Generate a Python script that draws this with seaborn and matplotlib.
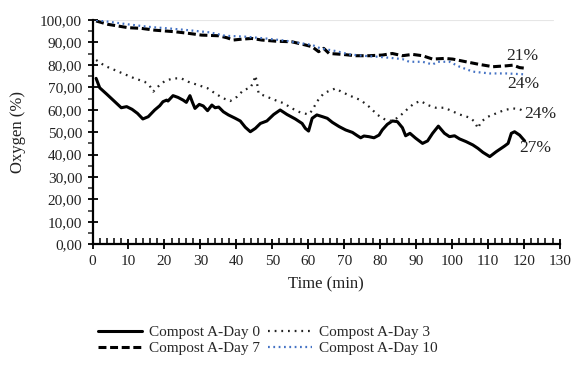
import matplotlib
matplotlib.use("Agg")
import matplotlib.pyplot as plt
import seaborn as sns
import pandas as pd
from matplotlib.ticker import MultipleLocator, FixedLocator, FixedFormatter

# ---- data ----
series_names = ["Compost A-Day 0", "Compost A-Day 3", "Compost A-Day 7", "Compost A-Day 10"]

t0 = [1, 2, 4, 6, 8, 9.5, 11, 12.5, 14, 15.5, 17.3, 18.7, 19.6, 20.6, 21, 22.4, 23.8, 25.2, 26.1, 27.1,
      27.8, 28.5, 29.7, 30.8, 32, 33.2, 34.1, 35.1, 36.4, 37.8, 39.7, 41.1, 42.5, 43.9, 45.3, 46.7, 48.5,
      50.4, 52.2, 54.1, 56.4, 58.3, 59.2, 60.1, 61.1, 62.4, 64, 65.3, 66.7, 68.6, 70.4, 72.3, 73.7, 74.6,
      75.5, 76.9, 78.3, 79.7, 80.6, 82, 83.4, 84.8, 86.2, 87.1, 88.3, 89.9, 91.8, 93.2, 94.6, 96.2, 97.9,
      99.3, 100.7, 102.1, 103.9, 105.8, 107.2, 108.6, 110.5, 112.3, 114.6, 115.6, 116.5, 117.4, 118.8, 120.2]
v0 = [74.0, 69.8, 66.9, 63.9, 60.9, 61.4, 60.2, 58.4, 55.9, 56.9, 59.9, 61.8, 63.6, 64.3, 63.9, 66.3, 65.5,
      64.3, 63.3, 66.3, 63.3, 60.6, 62.4, 61.7, 59.6, 62.1, 60.9, 61.2, 59.1, 57.7, 56.2, 55.0, 52.2, 50.2,
      51.7, 53.9, 55.0, 57.9, 59.9, 57.9, 55.9, 53.9, 51.7, 50.5, 56.2, 57.7, 56.9, 56.2, 54.4, 52.5, 51.0,
      49.9, 48.4, 47.5, 48.3, 48.0, 47.5, 48.7, 51.0, 53.5, 55.0, 54.7, 52.0, 48.4, 49.5, 47.3, 45.0, 46.1,
      49.5, 52.7, 49.5, 48.0, 48.4, 47.0, 45.8, 44.3, 42.8, 41.0, 39.1, 41.3, 43.8, 45.0, 49.5, 50.2, 48.7, 46.1]

t3 = [1, 3.4, 6.2, 9, 11.7, 14.5, 15.9, 16.9, 18.2, 20.1, 22.4, 24.7, 26.6, 29.4, 32, 34.1, 36.4, 38.3, 40.2,
      42, 43.9, 44.8, 45.3, 45.7, 46.2, 48.5, 50.8, 53.2, 55.5, 57.8, 60.1, 61.2, 62.4, 64.3, 65.8, 67.6,
      69.5, 72.3, 74.6, 76.9, 79.3, 81.6, 83.4, 85.3, 87.6, 89.5, 91.3, 93.2, 95.5, 97.9, 99.3, 102.1, 104.9,
      106.3, 107.2, 108.1, 110, 112.3, 114.6, 116.9, 118.8, 120.2]
v3 = [82.2, 79.6, 77.7, 75.8, 74.0, 72.5, 70.7, 68.1, 70.3, 72.8, 74.0, 74.0, 72.5, 71.0, 69.6, 67.3, 65.1,
      63.9, 65.8, 68.8, 69.8, 72.5, 75.2, 72.5, 67.3, 65.8, 64.3, 62.9, 60.6, 58.8, 57.9, 59.9, 63.6, 67.3,
      68.4, 69.5, 67.8, 65.8, 64.3, 61.4, 57.7, 55.4, 55.0, 56.9, 60.3, 62.9, 63.9, 62.1, 60.9, 60.9, 59.9,
      57.9, 56.5, 54.7, 51.7, 54.7, 56.9, 58.4, 59.9, 60.6, 60.3, 59.1]

t7 = [1, 4.3, 9.9, 13.6, 17.3, 22.9, 26.6, 30.3, 35.1, 37.4, 39.2, 41.5, 44.3, 47.1, 50.8, 55.5, 59.2, 61.1,
      62.9, 64.3, 65.8, 69.5, 73.2, 76.9, 80.6, 83.4, 86.2, 89, 91.8, 94.6, 97.9, 100.2, 103.9, 107.7, 111.4,
      115.1, 117, 118.8, 120.5]
v7 = [99.6, 98.1, 96.6, 96.3, 95.5, 94.8, 94.1, 93.3, 93.0, 92.1, 91.1, 91.5, 91.8, 91.1, 90.6, 90.3, 88.9,
      88.1, 85.9, 87.4, 85.1, 84.7, 84.1, 84.1, 84.4, 85.1, 84.1, 84.7, 84.1, 82.6, 82.9, 82.6, 81.4, 80.2,
      79.2, 79.6, 79.9, 78.8, 78.5]

t10 = [1, 4.3, 9.9, 15.5, 21, 26.6, 32.7, 36.9, 42.5, 48.1, 53.7, 58.3, 61.1, 63.4, 67.6, 71.4, 75.1, 78.8,
       82.5, 86.2, 88.1, 91.8, 94.6, 96, 97.9, 99.3, 102.1, 105.8, 110.5, 115.1, 120.2]
v10 = [100.0, 99.3, 98.1, 97.0, 96.3, 95.5, 94.5, 93.0, 92.6, 91.8, 90.8, 89.6, 88.9, 87.4, 86.2, 84.7, 84.1,
       83.7, 83.2, 82.6, 81.4, 81.4, 80.2, 81.4, 81.4, 81.4, 79.2, 77.0, 76.2, 76.2, 75.8]

end_labels = ["21%", "24%", "24%", "27%"]
x_ticks = [0, 10, 20, 30, 40, 50, 60, 70, 80, 90, 100, 110, 120, 130]
y_ticks = [0, 10, 20, 30, 40, 50, 60, 70, 80, 90, 100]
y_tick_labels = ["0,00", "10,00", "20,00", "30,00", "40,00", "50,00", "60,00", "70,00", "80,00", "90,00", "100,00"]

# ---- style ----
sns.set_style("ticks")
plt.rcParams["font.family"] = ["Liberation Serif", "DejaVu Serif"]
plt.rcParams["font.size"] = 11

fig = plt.figure(figsize=(5.76, 3.65), dpi=100)
ax = fig.add_axes([0.1606, 0.3307, 0.972 - 0.1606, 0.945 - 0.3307])

styles = [
    dict(color="black", lw=2.2, linestyle="-"),
    dict(color="#222222", lw=1.6, linestyle=(0, (0.8, 2.2))),
    dict(color="black", lw=2.2, linestyle=(0, (2.6, 1.2))),
    dict(color="#4472C4", lw=1.6, linestyle=(0, (0.8, 1.6))),
]
xs = [t0, t3, t7, t10]
ys = [v0, v3, v7, v10]

ax.axhline(100, color="#e6e6e6", lw=0.8, zorder=0, xmax=0.985)

handles = []
for name, x, y, st in zip(series_names, xs, ys, styles):
    df = pd.DataFrame({"t": x, "v": y})
    sns.lineplot(data=df, x="t", y="v", ax=ax, color=st["color"], lw=st["lw"],
                 linestyle=st["linestyle"], label=name, legend=False, sort=False,
                 solid_joinstyle="round", solid_capstyle="round")
    handles.append(ax.lines[-1])

# end labels
label_pos = [(119.5, 84.0), (119.7, 71.3), (124.5, 58.2), (123.2, 42.8)]
for txt, (px, py) in zip(end_labels, label_pos):
    ax.text(px, py, txt, ha="center", va="center", fontsize=12.5, color="#222222")

ax.set_xlim(0, 130)
ax.set_ylim(0, 100)
ax.xaxis.set_major_locator(FixedLocator(x_ticks))
ax.xaxis.set_minor_locator(MultipleLocator(2))
ax.yaxis.set_major_locator(FixedLocator(y_ticks))
ax.yaxis.set_major_formatter(FixedFormatter(y_tick_labels))
ax.yaxis.set_minor_locator(MultipleLocator(5))

for s in ["top", "right"]:
    ax.spines[s].set_visible(False)
for s in ["left", "bottom"]:
    ax.spines[s].set_linewidth(1.6)
    ax.spines[s].set_color("black")

ax.tick_params(axis="x", which="major", direction="inout", length=7, width=1.3, labelsize=11, pad=4, colors="black")
ax.tick_params(axis="x", which="minor", direction="in", length=4, width=1.3)
ax.tick_params(axis="y", which="major", direction="inout", length=7, width=1.3, labelsize=11, pad=4, colors="black")
ax.tick_params(axis="y", which="minor", direction="out", length=3.5, width=1.1)
for lab in ax.get_xticklabels() + ax.get_yticklabels():
    lab.set_color("#222222")

ax.set_xlabel("Time (min)", fontsize=12, color="#222222", labelpad=6)
ax.set_ylabel("Oxygen (%)", fontsize=12, color="#222222", labelpad=10)

# legend: row 1 = Day 0, Day 3 ; row 2 = Day 7, Day 10 (column-major fill)
order = [0, 2, 1, 3]
fig.legend(handles=[handles[i] for i in order], labels=[series_names[i] for i in order],
           loc="center", bbox_to_anchor=(0.465, 0.068),
           ncol=2, frameon=False, fontsize=11, handlelength=2.9, handletextpad=0.45,
           columnspacing=0.5, labelspacing=0.15)

fig.savefig("out.png", dpi=100)
